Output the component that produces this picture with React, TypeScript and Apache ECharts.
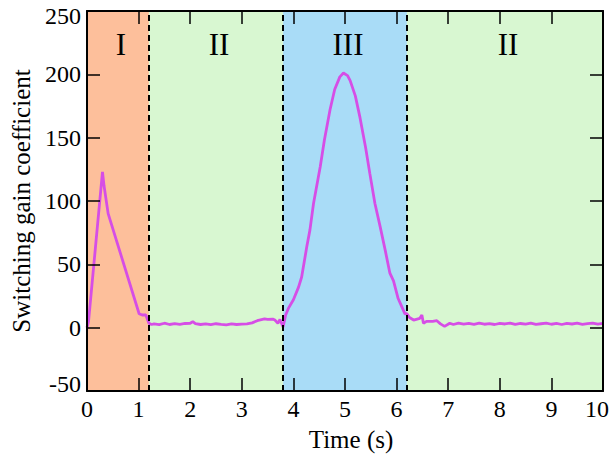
import React, { useEffect, useRef } from "react";
import * as echarts from "echarts";

const timeS = [
  0, 0.03, 0.3, 0.33, 0.41, 1.01, 1.07, 1.14, 1.2,
  1.25, 1.3, 1.4, 1.5, 1.6, 1.7, 1.8, 1.9, 2.0, 2.05, 2.1, 2.2, 2.3, 2.4, 2.5, 2.6, 2.7, 2.8, 2.9, 3.0,
  3.1, 3.2, 3.3, 3.44, 3.5, 3.6, 3.64, 3.7, 3.74, 3.8,
  3.85, 3.9, 4.0, 4.1, 4.16, 4.26, 4.32, 4.39, 4.52, 4.6, 4.71, 4.8, 4.9, 4.97, 5.05, 5.1, 5.2, 5.29,
  5.4, 5.48, 5.58, 5.68, 5.78, 5.87, 5.94, 6.03, 6.1, 6.16, 6.2, 6.25, 6.33, 6.45, 6.49, 6.52, 6.58,
  6.7, 6.78, 6.85, 6.93, 7.03, 7.1, 7.2, 7.3, 7.4, 7.5, 7.6, 7.7, 7.8, 7.9, 8.0, 8.1, 8.2, 8.3, 8.4,
  8.5, 8.6, 8.7, 8.8, 8.9, 9.0, 9.1, 9.2, 9.3, 9.4, 9.5, 9.6, 9.7, 9.8, 9.9, 10.0,
];

const gain = [
  0, 5, 123, 112, 90, 11, 10, 10, 3.5,
  2.5, 3, 2.4, 3.5, 2.5, 3.2, 2.6, 3.3, 3.5, 4.8, 3.2, 2.5, 3.0, 2.4, 3.1, 2.6, 2.2, 3.0, 2.5, 2.8,
  3.0, 3.8, 5.5, 6.9, 6.5, 6.8, 6.0, 3.5, 6.5, 0.5,
  10, 15, 22, 32, 40, 64, 77, 98, 127, 148, 172, 188, 198, 201, 199, 195, 183, 166,
  142, 122, 98, 80, 61, 43, 37, 23, 16.6, 11, 11, 8, 6, 7.4, 10, 3.5, 5,
  5, 5.5, 3, 1, 3.5, 2.5, 3.6, 2.8, 3.4, 2.6, 3.5, 2.7, 3.2, 2.5, 3.4, 2.9, 3.6, 2.6, 3.3,
  2.8, 3.5, 2.6, 3.1, 3.6, 2.7, 3.3, 2.5, 3.4, 2.9, 3.5, 2.6, 3.2, 3.6, 2.8, 3.4,
];

const regionStart = [0, 1.2, 3.8, 6.2];
const regionEnd = [1.2, 3.8, 6.2, 10];
const regionNames = ["I", "II", "III", "II"];
const regionColors = ["#fdbf9b", "#d8f7d1", "#a9dcf7", "#d8f7d1"];
const boundaries = [1.2, 3.8, 6.2];

const xTicks = { min: 0, max: 10, interval: 1 };
const yTicks = { min: -50, max: 250, interval: 50 };

const FONT = "'Liberation Serif', 'Times New Roman', serif";

export default function App() {
  const ref = useRef<HTMLDivElement>(null);

  useEffect(() => {
    if (!ref.current) return;
    const chart = echarts.init(ref.current, undefined, { renderer: "svg" });

    const axisCommon = {
      type: "value" as const,
      z: 10,
      splitLine: { show: false },
      axisLine: { show: true, onZero: false, lineStyle: { color: "#000", width: 2 } },
      axisTick: { show: true, inside: true, length: 13, lineStyle: { color: "#000", width: 1.5 } },
    };

    const lineData = timeS.map((t, i) => [t, gain[i]]);
    const labelFont = { fontSize: 24, fontFamily: FONT, color: "#000" };

    chart.setOption({
      animation: false,
      backgroundColor: "#fff",
      grid: {
        left: 87,
        right: 7,
        top: 11,
        bottom: 66,
        containLabel: false,
        outerBoundsMode: "none",
      },
      xAxis: [
        {
          ...axisCommon,
          position: "bottom",
          ...xTicks,
          axisLabel: {
            ...labelFont,
            margin: 6,
            formatter: (v: number) => (v === xTicks.max ? `{r|${v}}` : `${v}`),
            rich: { r: { ...labelFont, padding: [0, 12, 0, 0] } },
          },
          name: "Time (s)",
          nameLocation: "middle",
          nameGap: 36,
          nameTextStyle: { fontSize: 25, fontFamily: FONT, color: "#000", padding: [0, 0, 0, 12] },
        },
        {
          ...axisCommon,
          position: "top",
          ...xTicks,
          axisLabel: { show: false },
        },
      ],
      yAxis: [
        {
          ...axisCommon,
          position: "left",
          ...yTicks,
          axisLabel: {
            ...labelFont,
            margin: 6,
            formatter: (v: number) =>
              v === yTicks.max ? `{t|${v}}` : v === yTicks.min ? `{b|${v}}` : `${v}`,
            rich: {
              t: { ...labelFont, padding: [10, 0, 0, 0] },
              b: { ...labelFont, padding: [0, 0, 14, 0] },
            },
          },
          name: "Switching gain coefficient",
          nameLocation: "middle",
          nameGap: 53,
          nameRotate: 90,
          nameTextStyle: { fontSize: 25, fontFamily: FONT, color: "#000", padding: [0, 0, 0, 0] },
        },
        {
          ...axisCommon,
          position: "right",
          ...yTicks,
          axisLabel: { show: false },
        },
      ],
      series: [
        {
          type: "line",
          data: [],
          z: 1,
          markArea: {
            silent: true,
            data: regionStart.map((s, i) => [
              {
                xAxis: s,
                itemStyle: { color: regionColors[i], opacity: 1 },
                label: {
                  show: true,
                  position: "insideTop",
                  distance: 18,
                  offset: [3, 0],
                  formatter: regionNames[i],
                  fontSize: 31,
                  fontFamily: FONT,
                  color: "#000",
                },
              },
              { xAxis: regionEnd[i] },
            ]),
          },
          markLine: {
            silent: true,
            symbol: ["none", "none"],
            label: { show: false },
            lineStyle: { color: "#000", width: 2, type: [6, 4] },
            data: boundaries.map((b) => ({ xAxis: b })),
          },
        },
        {
          type: "line",
          data: lineData,
          z: 3,
          showSymbol: false,
          symbol: "none",
          lineStyle: { color: "#d64ee6", width: 2.8 },
        },
      ],
    });

    return () => chart.dispose();
  }, []);

  return (
    <div
      ref={ref}
      style={{ position: "fixed", left: 0, top: 0, width: 610, height: 457 }}
    />
  );
}
